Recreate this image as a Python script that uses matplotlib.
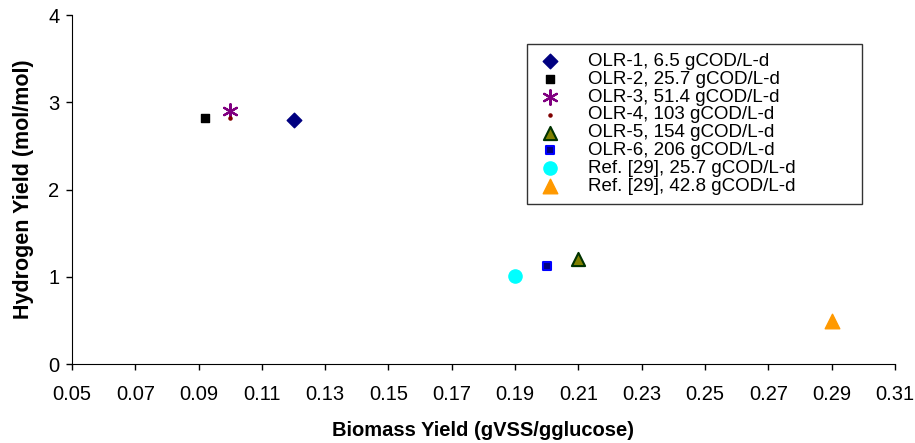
import matplotlib
matplotlib.use('Agg')
import matplotlib.pyplot as plt

plt.rcParams['font.family'] = ['Liberation Sans', 'DejaVu Sans']

# Data
labels = ['OLR-1, 6.5 gCOD/L-d', 'OLR-2, 25.7 gCOD/L-d', 'OLR-3, 51.4 gCOD/L-d',
          'OLR-4, 103 gCOD/L-d', 'OLR-5, 154 gCOD/L-d', 'OLR-6, 206 gCOD/L-d',
          'Ref. [29], 25.7 gCOD/L-d', 'Ref. [29], 42.8 gCOD/L-d']
biomass_yield = [0.12, 0.092, 0.10, 0.10, 0.21, 0.20, 0.19, 0.29]
hydrogen_yield = [2.80, 2.82, 2.90, 2.82, 1.20, 1.12, 1.01, 0.50]
x_ticks = [0.05, 0.07, 0.09, 0.11, 0.13, 0.15, 0.17, 0.19, 0.21, 0.23, 0.25, 0.27, 0.29, 0.31]
y_ticks = [0, 1, 2, 3, 4]

styles = [
    dict(marker='D', s=55, c='#000080', edgecolors='#000080'),
    dict(marker='s', s=30, c='black', edgecolors='black'),
    dict(marker=(6, 2, 0), s=110, c='#800080', linewidths=1.6),
    dict(marker='o', s=5, c='#800000', edgecolors='#800000'),
    dict(marker='^', s=90, c='#808000', edgecolors='#003300', linewidths=1.5),
    dict(marker='s', s=35, c='#000080', edgecolors='#0000ff', linewidths=1.5),
    dict(marker='o', s=90, c='#00ffff', edgecolors='#00ffff'),
    dict(marker='^', s=110, c='#ff9900', edgecolors='#ff9900'),
]

fig = plt.figure(figsize=(9.15, 4.43), dpi=100)
ax = fig.add_axes([0.0787, 0.178, 0.8993, 0.788])

for x, y, lab, st in zip(biomass_yield, hydrogen_yield, labels, styles):
    ax.scatter([x], [y], label=lab, zorder=3, **st)

ax.set_xlim(0.05, 0.31)
ax.set_ylim(0, 4)
ax.set_xticks(x_ticks)
ax.set_xticklabels(['%.2f' % t for t in x_ticks])
ax.set_yticks(y_ticks)
ax.tick_params(labelsize=14.5, direction='out', length=4, width=1, pad=5)
ax.tick_params(axis='x', pad=11)

for side in ['top', 'right']:
    ax.spines[side].set_visible(False)

ax.set_xlabel('Biomass Yield (gVSS/gglucose)', fontsize=14.5, fontweight='bold', labelpad=12.5)
ax.set_ylabel('Hydrogen Yield (mol/mol)', fontsize=15.5, fontweight='bold', labelpad=10)

# legend box: x 527..862, y 44..204 in pixels
leg = fig.legend(loc='upper left', mode='expand',
                 bbox_to_anchor=(527 / 915, 1 - 204 / 443, 335 / 915, 160 / 443),
                 fontsize=13.5, frameon=True, fancybox=False, edgecolor='black',
                 handletextpad=1.3, labelspacing=0.045, borderpad=0.45, handlelength=1.5,
                 scatterpoints=1, borderaxespad=0)
leg.get_frame().set_linewidth(1.0)

fig.savefig('out.png', dpi=100)
